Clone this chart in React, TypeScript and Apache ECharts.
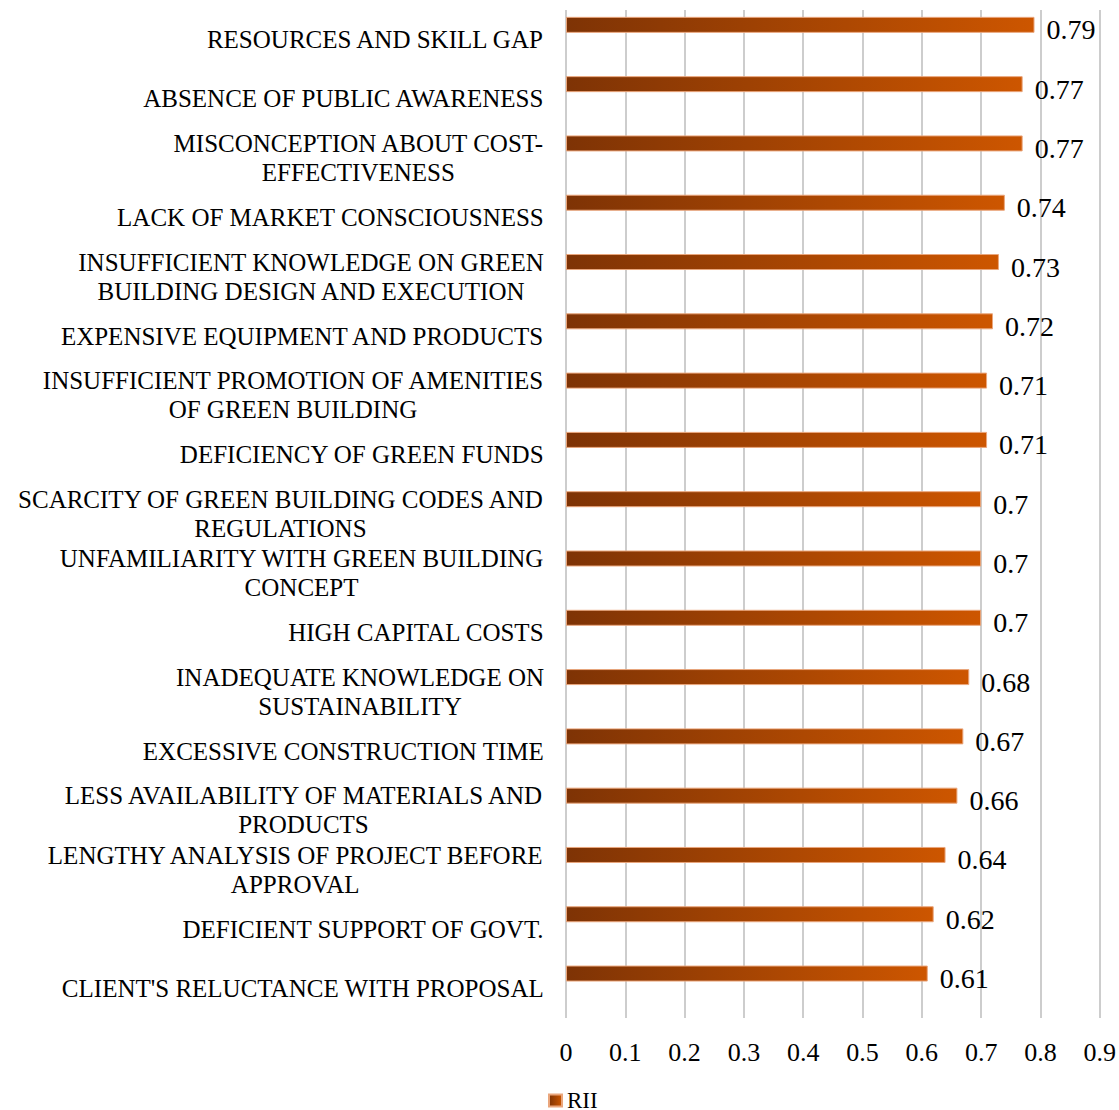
import React, { useEffect, useRef } from "react";
import * as echarts from "echarts";

const categories: string[] = [
  "RESOURCES AND SKILL GAP",
  "ABSENCE OF PUBLIC AWARENESS",
  "MISCONCEPTION ABOUT COST-\nEFFECTIVENESS",
  "LACK OF MARKET CONSCIOUSNESS",
  "INSUFFICIENT KNOWLEDGE ON GREEN\nBUILDING DESIGN AND EXECUTION",
  "EXPENSIVE EQUIPMENT AND PRODUCTS",
  "INSUFFICIENT PROMOTION OF AMENITIES\nOF GREEN BUILDING",
  "DEFICIENCY OF GREEN FUNDS",
  "SCARCITY OF GREEN BUILDING CODES AND\nREGULATIONS",
  "UNFAMILIARITY WITH GREEN BUILDING\nCONCEPT",
  "HIGH CAPITAL COSTS",
  "INADEQUATE KNOWLEDGE ON\nSUSTAINABILITY",
  "EXCESSIVE CONSTRUCTION TIME",
  "LESS AVAILABILITY OF MATERIALS AND\nPRODUCTS",
  "LENGTHY ANALYSIS OF PROJECT BEFORE\nAPPROVAL",
  "DEFICIENT SUPPORT OF GOVT.",
  "CLIENT'S RELUCTANCE WITH PROPOSAL",
];

const rii: number[] = [
  0.79, 0.77, 0.77, 0.74, 0.73, 0.72, 0.71, 0.71, 0.7, 0.7, 0.7, 0.68, 0.67, 0.66,
  0.64, 0.62, 0.61,
];

const xTicks = { min: 0, max: 0.9, interval: 0.1 };

const FONT = "'Liberation Serif', 'Times New Roman', serif";

export default function App() {
  const ref = useRef<HTMLDivElement>(null);
  useEffect(() => {
    if (!ref.current) return;
    const chart = echarts.init(ref.current, undefined, { renderer: "svg" });
    const barColor = new echarts.graphic.LinearGradient(0, 0, 1, 0, [
      { offset: 0, color: "#7e3305" },
      { offset: 1, color: "#cd5600" },
    ]);
    chart.setOption({
      animation: false,
      backgroundColor: "#ffffff",
      textStyle: { fontFamily: FONT },
      grid: { left: 566, right: 18, top: 10, bottom: 92, containLabel: false },
      legend: {
        data: ["RII"],
        left: 548,
        top: 1089,
        icon: "rect",
        itemWidth: 13,
        itemHeight: 12,
        itemGap: 6,
        padding: 0,
        textStyle: {
          fontFamily: FONT,
          fontSize: 23,
          lineHeight: 20,
          color: "#000",
        },
      },
      xAxis: {
        type: "value",
        min: xTicks.min,
        max: xTicks.max,
        interval: xTicks.interval,
        axisLine: { show: false },
        axisTick: { show: false },
        splitLine: { show: true, lineStyle: { color: "#bdbdbd", width: 1.5 } },
        axisLabel: {
          margin: 21,
          fontFamily: FONT,
          fontSize: 26,
          color: "#000",
          formatter: (v: number) => (v === 0 ? "0" : v.toFixed(1)),
        },
      },
      yAxis: {
        type: "category",
        inverse: true,
        data: categories,
        axisLine: { show: false },
        axisTick: { show: false },
        axisLabel: {
          margin: 22,
          align: "right",
          color: "#000",
          fontFamily: FONT,
          fontSize: 25,
          formatter: (v: string) =>
            v
              .split("\n")
              .map((l) => "{c|" + l + "}")
              .join("\n"),
          rich: {
            c: {
              align: "center",
              fontFamily: FONT,
              fontSize: 25,
              lineHeight: 29,
              color: "#000",
            },
          },
        },
      },
      series: [
        {
          name: "RII",
          type: "bar",
          data: rii,
          barWidth: 16,
          barGap: "85%",
          itemStyle: { color: barColor, borderColor: "#eaa67c", borderWidth: 1 },
          label: {
            show: true,
            position: "right",
            distance: 12,
            offset: [0, 5],
            fontFamily: FONT,
            fontSize: 28,
            color: "#000",
          },
        },
        {
          name: "spacer",
          type: "bar",
          data: rii.map(() => null),
          barWidth: 16,
          silent: true,
        },
      ],
    });
    return () => chart.dispose();
  }, []);
  return (
    <div
      ref={ref}
      style={{ position: "fixed", left: 0, top: 0, width: 1119, height: 1110 }}
    />
  );
}
